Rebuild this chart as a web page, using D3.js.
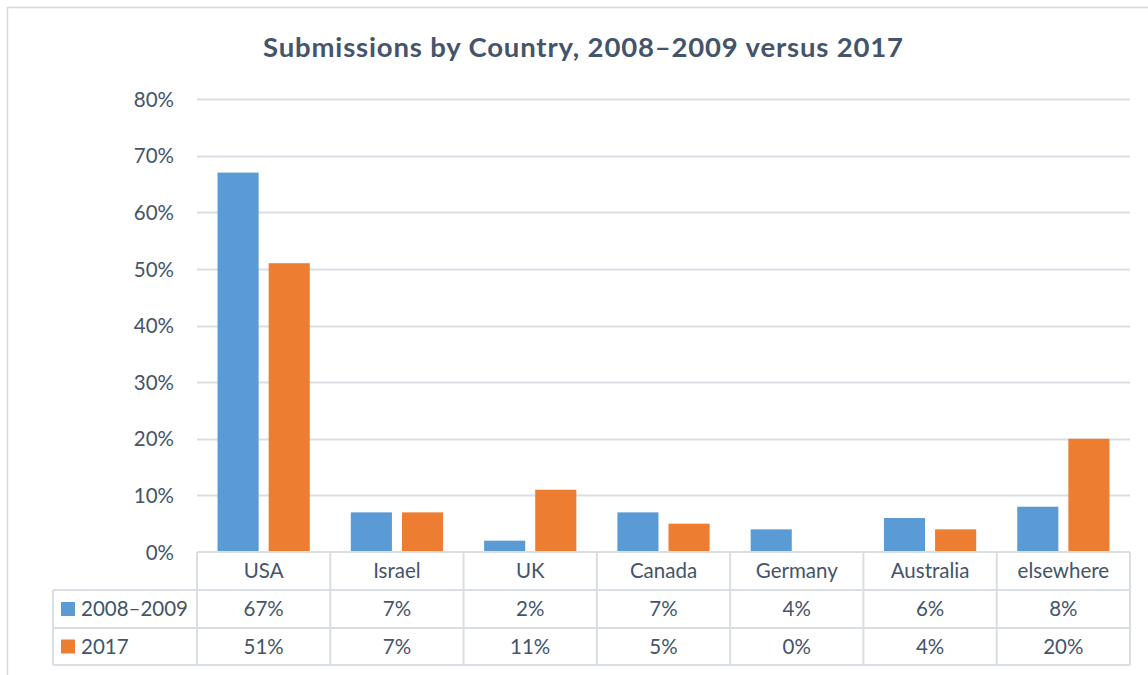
<!DOCTYPE html>
<html>
<head>
<meta charset="utf-8">
<script src="https://cdn.jsdelivr.net/npm/d3@7/dist/d3.min.js"></script>
<style>
  html, body { margin: 0; padding: 0; background: #fff; }
  svg { display: block; }
</style>
</head>
<body>
<svg id="chart" width="1148" height="675"></svg>
<script>
const categories = ["USA", "Israel", "UK", "Canada", "Germany", "Australia", "elsewhere"];
const seriesNames = ["2008\u20132009", "2017"];
const values2008 = [0.67, 0.07, 0.02, 0.07, 0.04, 0.06, 0.08];
const values2017 = [0.51, 0.07, 0.11, 0.05, 0.00, 0.04, 0.20];
const yTicks = [0, 0.1, 0.2, 0.3, 0.4, 0.5, 0.6, 0.7, 0.8];
const colors = ["#5B9BD5", "#ED7D31"];
const title = "Submissions by Country, 2008\u20132009 versus 2017";

const seriesValues = [values2008, values2017];
const textColor = "#44546A";
const lineColor = "#D9DEE5";
const font = "Lato, 'Open Sans', sans-serif";

const svg = d3.select("#chart");

// outer border
svg.append("rect").attr("x", 7.5).attr("y", 7.5).attr("width", 1200).attr("height", 720)
  .attr("fill", "#fff").attr("stroke", "#D9D9D9").attr("stroke-width", 1.5);

const plotLeft = 197, plotRight = 1130, plotTop = 99, plotBottom = 552;
const x = d3.scaleBand().domain(categories).range([plotLeft, plotRight]).paddingInner(0).paddingOuter(0);
const y = d3.scaleLinear().domain([0, 0.8]).range([plotBottom, plotTop]);
const bw = x.bandwidth();
const xs = d3.scaleBand().domain(seriesNames).range([bw * 0.154, bw * 0.846]).paddingInner(0.196).paddingOuter(0);

// title
svg.append("text").attr("x", 583).attr("y", 57).attr("text-anchor", "middle")
  .attr("font-family", font).attr("font-weight", "bold").attr("font-size", 27.5)
  .attr("textLength", 640).attr("lengthAdjust", "spacing")
  .attr("fill", textColor).text(title);

// y axis labels
const yAxis = d3.axisLeft(y).tickValues(yTicks).tickFormat(d3.format(".0%")).tickSize(0).tickPadding(23);
const gAxis = svg.append("g").attr("transform", `translate(${plotLeft},0)`).call(yAxis);
gAxis.select(".domain").remove();
gAxis.selectAll("text").attr("font-family", font).attr("font-size", 20.5).attr("fill", textColor).attr("dy", "0.35em");

// gridlines
svg.append("g").selectAll("line").data(yTicks.filter(d => d > 0)).join("line")
  .attr("x1", plotLeft).attr("x2", plotRight)
  .attr("y1", d => Math.round(y(d)) + 0.5).attr("y2", d => Math.round(y(d)) + 0.5)
  .attr("stroke", lineColor).attr("stroke-width", 2);

// bars
seriesNames.forEach((s, si) => {
  svg.append("g").selectAll("rect").data(categories).join("rect")
    .attr("x", c => x(c) + xs(s))
    .attr("width", xs.bandwidth())
    .attr("y", (c, i) => y(seriesValues[si][i]))
    .attr("height", (c, i) => y(0) - y(seriesValues[si][i]))
    .attr("fill", colors[si]);
});

// data table
const rowTop = [552, 590, 628, 665];
const tableLeft = 53;
const tbl = svg.append("g").attr("stroke", lineColor).attr("stroke-width", 2);
tbl.append("line").attr("x1", plotLeft).attr("x2", plotRight).attr("y1", rowTop[0]).attr("y2", rowTop[0]);
[1, 2, 3].forEach(r => tbl.append("line").attr("x1", tableLeft).attr("x2", plotRight).attr("y1", rowTop[r]).attr("y2", rowTop[r]));
tbl.append("line").attr("x1", tableLeft).attr("x2", tableLeft).attr("y1", rowTop[1]).attr("y2", rowTop[3]);
categories.forEach(c => tbl.append("line").attr("x1", x(c)).attr("x2", x(c)).attr("y1", rowTop[0]).attr("y2", rowTop[3]));
tbl.append("line").attr("x1", plotRight).attr("x2", plotRight).attr("y1", rowTop[0]).attr("y2", rowTop[3]);

const tfont = 20.5;
svg.append("g").selectAll("text").data(categories).join("text")
  .attr("x", c => x(c) + bw / 2).attr("y", (rowTop[0] + rowTop[1]) / 2).attr("dy", "0.35em")
  .attr("text-anchor", "middle").attr("font-family", font).attr("font-size", tfont).attr("fill", textColor)
  .text(c => c);

seriesNames.forEach((s, si) => {
  const cy = (rowTop[si + 1] + rowTop[si + 2]) / 2;
  svg.append("rect").attr("x", 61).attr("y", cy - 7).attr("width", 14).attr("height", 14).attr("fill", colors[si]);
  svg.append("text").attr("x", 81).attr("y", cy).attr("dy", "0.35em")
    .attr("font-family", font).attr("font-size", tfont).attr("fill", textColor).text(s);
  svg.append("g").selectAll("text").data(categories).join("text")
    .attr("x", c => x(c) + bw / 2).attr("y", cy).attr("dy", "0.35em")
    .attr("text-anchor", "middle").attr("font-family", font).attr("font-size", tfont).attr("fill", textColor)
    .text((c, i) => d3.format(".0%")(seriesValues[si][i]));
});
</script>
</body>
</html>
